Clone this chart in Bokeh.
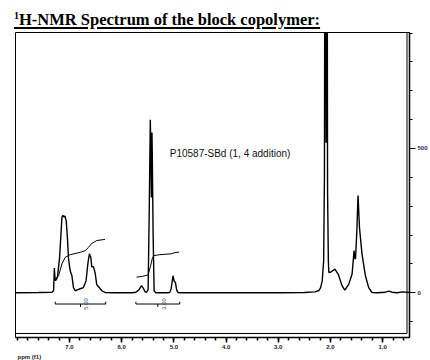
import math
from bokeh.plotting import figure
from bokeh.models import Range1d, FixedTicker, Label, PrintfTickFormatter, Div, Title
from bokeh.layouts import column
from bokeh.embed import file_html
from bokeh.resources import INLINE

# ---------------- data ----------------
ppm = [8.03, 7.60, 7.33, 7.305, 7.29, 7.283, 7.27, 7.255, 7.23, 7.19, 7.145, 7.126, 7.105,
       7.088, 7.063, 7.04, 7.019, 6.987, 6.954, 6.924, 6.891, 6.85, 6.796, 6.733, 6.682,
       6.649, 6.619, 6.592, 6.573, 6.542, 6.510, 6.478, 6.428, 6.382, 6.319, 6.1, 5.80,
       5.728, 5.671, 5.620, 5.585, 5.55, 5.524, 5.494, 5.471, 5.452, 5.444, 5.430, 5.420,
       5.414, 5.398, 5.379, 5.347, 5.15, 5.08, 5.051, 5.017, 4.994, 4.971, 4.947, 4.922,
       4.85, 4.0, 3.0, 2.5, 2.30, 2.22, 2.188, 2.157, 2.13, 2.115, 2.100, 2.084, 2.068,
       2.055, 2.040, 2.030, 1.999, 1.915, 1.852, 1.776, 1.724, 1.648, 1.585, 1.547, 1.535,
       1.520, 1.496, 1.471, 1.444, 1.395, 1.330, 1.267, 1.204, 1.10, 0.95, 0.88, 0.82,
       0.72, 0.62, 0.49]
intensity = [0, 1, 2, 8, 86, 60, 42, 45, 55, 122, 262, 268, 262,
             266, 250, 190, 117, 76, 59, 18, 7, 10, 14, 18, 42,
             100, 135, 123, 90, 90, 70, 28, 18, 7, 1, 0, 0,
             2, 10, 25, 15, 3, 2, 10, 300, 600, 520, 330, 555,
             480, 205, 7, 0, 0, 1, 15, 59, 40, 36, 10, 1,
             0, 0, 0, 1, 3, 8, 18, 42, 110, 400, 2100, 520, 2000,
             350, 110, 70, 71, 82, 65, 24, 9, 30, 65, 146, 120,
             117, 205, 337, 227, 134, 59, 18, 1, 0, 2, 6, 2,
             0, 3, 1]

arom_int_ppm = [7.254, 7.21, 7.145, 7.082, 6.987, 6.796, 6.70, 6.638, 6.573, 6.478, 6.32]
arom_int_val = [51, 59, 100, 123, 132, 140, 146, 157, 171, 181, 185]
olef_int_ppm = [5.715, 5.60, 5.494, 5.45, 5.41, 5.38, 5.27, 5.05, 4.985, 4.90]
olef_int_val = [54, 57, 62, 90, 122, 129, 132, 135, 139, 141]

int_regions = [(7.273, 6.306), (5.728, 4.888)]
int_labels = ["5.00", "3.00"]
bracket_level = -39

x_major_ticks = [7, 6, 5, 4, 3, 2, 1]
x_minor_ticks = [round(0.6 + 0.2 * i, 1) for i in range(38)]
y_major_ticks = [0, 500]
y_minor_ticks = [-100, 0, 100, 200, 300, 400, 500, 600, 700, 800, 900]

title_html = ('<div style="font-family:\'Liberation Serif\',\'Times New Roman\',serif;'
              'font-weight:bold;font-size:16.5px;line-height:1;color:#000;'
              'padding:12px 0 0 14px;white-space:nowrap;">'
              '<span style="text-decoration:underline;text-decoration-thickness:2px;'
              'text-underline-offset:2px;">'
              '<sup style="font-size:10px;vertical-align:6px;line-height:0;">1</sup>'
              'H-NMR Spectrum of the block copolymer:</span></div>')
sample_text = "P10587-SBd (1, 4 addition)"
x_caption = "ppm (f1)"

# ---------------- layout ----------------
X0, X1 = 8.035, 0.485
Y0, Y1 = -155, 902
TOP_H = 31
FL, FR, FT, FB = 15, 411, 32, 337   # frame in page pixels

def dx(px):
    return X0 + (px - FL) * (X1 - X0) / (FR - FL)

def dy(py):
    return Y0 + (FB - py) * (Y1 - Y0) / (FB - FT)

header = Div(text=title_html, width=430, height=TOP_H, margin=(0, 0, 0, 0))

p = figure(width=430, height=360 - TOP_H, output_backend="svg", toolbar_location=None,
           x_range=Range1d(X0, X1), y_range=Range1d(Y0, Y1),
           y_axis_location="right",
           min_border_left=FL, min_border_right=430 - FR,
           min_border_top=FT - TOP_H, min_border_bottom=360 - FB,
           margin=(0, 0, 0, 0))
p.grid.visible = False
p.outline_line_color = "black"
p.outline_line_width = 1
p.background_fill_color = "white"
p.border_fill_color = "white"

# bottom axis
xa = p.xaxis[0]
xa.ticker = FixedTicker(ticks=x_major_ticks, minor_ticks=x_minor_ticks)
xa.formatter = PrintfTickFormatter(format="%.1f")
xa.axis_line_width = 1.5
xa.major_tick_in = 0
xa.major_tick_out = 5
xa.minor_tick_in = 0
xa.minor_tick_out = 3
xa.major_tick_line_width = 1.5
xa.minor_tick_line_width = 1.5
xa.major_label_standoff = 2
xa.major_label_text_font = "Liberation Sans"
xa.major_label_text_font_style = "bold"
xa.major_label_text_font_size = "6px"
xa.major_label_text_color = "#222222"

# right axis
ya = p.yaxis[0]
ya.ticker = FixedTicker(ticks=y_major_ticks, minor_ticks=y_minor_ticks)
ya.axis_line_width = 1.5
ya.major_tick_in = 0
ya.major_tick_out = 6
ya.minor_tick_in = 0
ya.minor_tick_out = 3
ya.major_tick_line_width = 1.2
ya.minor_tick_line_width = 1.2
ya.major_label_standoff = 2
ya.major_label_text_font = "Liberation Sans"
ya.major_label_text_font_style = "bold"
ya.major_label_text_font_size = "6px"
ya.major_label_text_color = "#1c2c5c"
ya.major_label_orientation = "horizontal"

# x caption below the axis, left aligned
p.add_layout(Title(text=x_caption, align="left", offset=2, standoff=0,
                   text_font="Liberation Sans", text_font_style="bold",
                   text_font_size="6px", text_color="#222222"), "below")

# inner frame lines (double-frame look)
inner_r = dx(408.5)
inner_b = dy(333)
p.line([X0, inner_r, inner_r], [inner_b, inner_b, Y1], line_color="black", line_width=1)

# spectrum
p.line(ppm, intensity, line_color="black", line_width=1.4)

# integral curves
p.line(arom_int_ppm, arom_int_val, line_color="black", line_width=1)
p.line(olef_int_ppm, olef_int_val, line_color="black", line_width=1)

# integration brackets
for (a, b), lab in zip(int_regions, int_labels):
    mid = (a + b) / 2
    p.line([a, a, b, b], [bracket_level + 8, bracket_level, bracket_level, bracket_level + 8],
           line_color="black", line_width=1)
    p.line([mid, mid], [bracket_level, bracket_level - 10], line_color="black", line_width=1)
    p.add_layout(Label(x=mid, y=bracket_level, text=lab, angle=math.pi / 2,
                       x_offset=4, text_align="center", text_baseline="top",
                       text_font="Liberation Sans", text_font_size="6px",
                       text_color="#24527a"))

# sample label
p.add_layout(Label(x=dx(170), y=dy(153), text=sample_text, text_baseline="middle",
                   text_font="Liberation Sans", text_font_size="10px", text_color="#111111"))

layout = column(header, p, spacing=0, margin=(0, 0, 0, 0))

open("out.html", "w").write(file_html(layout, INLINE))
